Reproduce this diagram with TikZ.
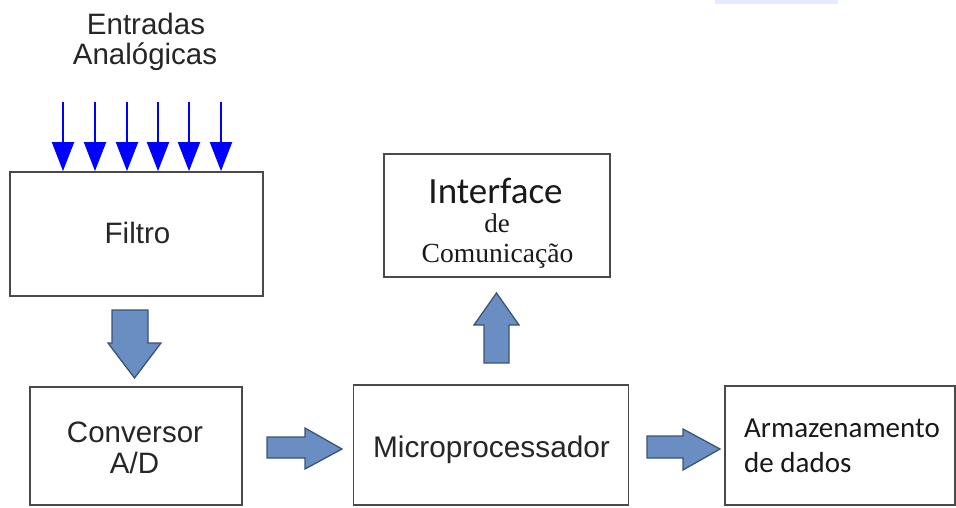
\documentclass[tikz,border=0pt]{standalone}
\usepackage{fontspec}
\setmainfont{Liberation Sans}
\newfontfamily\calibfont{Carlito}
\newfontfamily\seriffont{Liberation Serif}
\usetikzlibrary{arrows.meta}
\definecolor{boxline}{HTML}{4A4A4A}
\definecolor{txtgray}{HTML}{262626}
\definecolor{blockfill}{HTML}{6A8DC2}
\definecolor{blockline}{HTML}{3A5475}
\definecolor{strip}{HTML}{E4EAFF}
\tikzset{
  stage/.style={draw=boxline, line width=1.8pt, fill=white, rectangle, inner sep=0pt},
  lbl/.style={anchor=base, text=txtgray, font=\fontsize{29.5}{31}\selectfont, inner sep=0pt},
  darklbl/.style={inner sep=0pt, text=black!90},
  inarrow/.style={draw=blue, line width=2pt, -{Triangle[width=22pt,length=29pt]}},
  blockarrow/.style={fill=blockfill, draw=blockline, line width=1.3pt, line join=miter}
}
\begin{document}
\begin{tikzpicture}[x=1pt,y=-1pt]
\useasboundingbox (0,0) rectangle (956,508);
\fill[strip] (715,0) rectangle (838,4);

% processing stages
\node[stage, minimum width=253pt, minimum height=124pt] (filtro) at (136.5,234) {};
\node[stage, minimum width=212pt, minimum height=118pt] (conv) at (136,446) {};
\node[stage, minimum width=275pt, minimum height=120pt] (micro) at (491,445) {};
\node[stage, minimum width=230pt, minimum height=119pt] (arm) at (840,445.5) {};
\node[stage, minimum width=226pt, minimum height=123pt] (iface) at (497,215.5) {};

% labels
\node[lbl] (ent1) at (146,35) {Entradas};
\node[lbl] (ent2) at (145,65) {Analógicas};
\node[lbl] (filtroT) at (137.5,243) {Filtro};
\node[lbl] (convT1) at (135,442) {Conversor};
\node[lbl] (convT2) at (134.5,473) {A/D};
\node[lbl, font=\fontsize{29.8}{31}\selectfont] (microT) at (491.5,457) {Microprocessador};
\node[darklbl, anchor=base west, font=\calibfont\fontsize{29}{31}\selectfont] (armT1) at (744,437) {Armazenamento};
\node[darklbl, anchor=base west, font=\calibfont\fontsize{29}{31}\selectfont] (armT2) at (744,472) {de dados};
\node[darklbl, anchor=base, font=\calibfont\fontsize{37}{40}\selectfont] (ifT1) at (495.5,203) {Interface};
\node[darklbl, anchor=base, font=\seriffont\fontsize{27}{29}\selectfont] (ifT2) at (497,232) {de};
\node[darklbl, anchor=base, font=\seriffont\fontsize{27.6}{29}\selectfont] (ifT3) at (497.5,262) {Comunicação};

% analog inputs
\foreach \x [count=\i] in {63,95,127,158,189,221} {
  \coordinate (in\i) at (\x,102);
  \draw[inarrow] (in\i) -- (in\i |- filtro.north);
}

% block arrows between stages
\draw[blockarrow] (112,310) -- (148,310) -- (148,343) -- (161,343) -- (134.5,378)
  -- (108,343) -- (112,343) -- cycle;
\draw[blockarrow] (267,437) -- (305,437) -- (305,428) -- (342,449) -- (305,469)
  -- (305,458) -- (267,458) -- cycle;
\draw[blockarrow] (647,436) -- (683,436) -- (683,429) -- (720,449) -- (683,470)
  -- (683,458) -- (647,458) -- cycle;
\draw[blockarrow] (484,363) -- (484,325) -- (474,325) -- (496.5,293) -- (519,325)
  -- (509,325) -- (509,363) -- cycle;
\end{tikzpicture}
\end{document}
